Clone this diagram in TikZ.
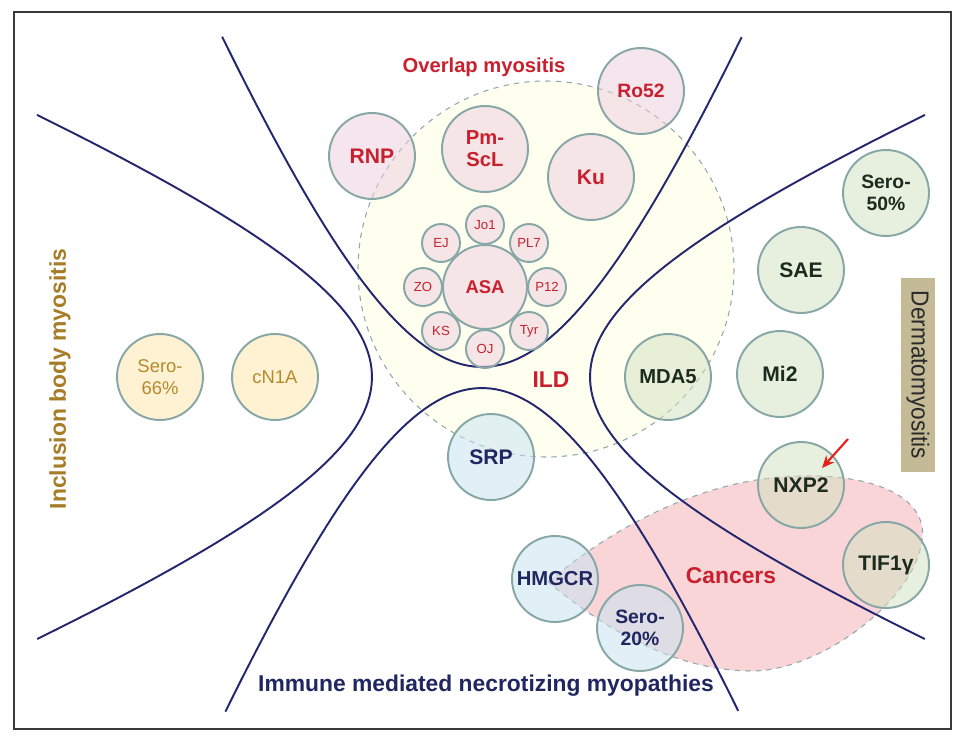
\documentclass[tikz,border=0pt]{standalone}
\usepackage{fontspec}
\usepackage{graphicx}
\setmainfont{Liberation Sans}
\usetikzlibrary{arrows.meta}
\definecolor{ringc}{HTML}{87A6A6}
\definecolor{curvec}{HTML}{24266E}
\definecolor{ildfill}{HTML}{FFFFF0}
\definecolor{ildline}{HTML}{8FA8AC}
\definecolor{pinkblob}{HTML}{F9D5D8}
\definecolor{omfill}{HTML}{EDCDDD}
\definecolor{dmfill}{HTML}{D1E1BF}
\definecolor{imfill}{HTML}{C5E3F1}
\definecolor{ibfill}{HTML}{FFE7A9}
\definecolor{redtxt}{HTML}{C8202E}
\definecolor{navytxt}{HTML}{1F2660}
\definecolor{dmtxt}{HTML}{1B2B1E}
\definecolor{ibtxt}{HTML}{B48A2C}
\definecolor{ibtitle}{HTML}{A67C26}
\definecolor{dmbox}{HTML}{C4BB96}
\definecolor{framec}{HTML}{3A3A3A}
\definecolor{dmtext}{HTML}{2A2A2A}
\definecolor{arrowred}{HTML}{E8201C}
\begin{document}
\begin{tikzpicture}[x=0.02cm,y=-0.02cm,
  ab/.style={circle, draw=ringc, line width=1.1pt, minimum size=1.72cm, inner sep=0pt, align=center, fill opacity=0.5, text opacity=1},
  om/.style={ab, fill=omfill, text=redtxt, font=\bfseries\fontsize{12}{13.5}\selectfont},
  sat/.style={circle, draw=ringc, line width=1.1pt, minimum size=0.76cm, inner sep=0pt, fill=omfill, fill opacity=0.5, text opacity=1, text=redtxt, font=\fontsize{7.5}{8}\selectfont},
  dm/.style={ab, fill=dmfill, text=dmtxt, font=\bfseries\fontsize{12}{13.5}\selectfont},
  im/.style={ab, fill=imfill, text=navytxt, font=\bfseries\fontsize{12}{13.5}\selectfont},
  ib/.style={ab, fill=ibfill, text=ibtxt, font=\fontsize{10.5}{12.5}\selectfont},
  curve/.style={draw=curvec, line width=1.1pt},
  title/.style={font=\bfseries\fontsize{13}{14}\selectfont, inner sep=0pt}
]
\useasboundingbox (0,0) rectangle (964,740);
\fill[white] (0,0) rectangle (964,740);
\draw[framec, line width=1.2pt] (14,12) rectangle (951,729);

% ILD region
\fill[ildfill] (546,269) circle[radius=188];
\draw[ildline, dashed, line width=0.6pt] (546,269) circle[radius=188];

% Cancers region
\path[fill=pinkblob] (548,582) .. controls (610,530) and (700,478) .. (800,476)
  .. controls (880,474) and (928,500) .. (922,540)
  .. controls (915,600) and (820,672) .. (750,671)
  .. controls (670,670) and (600,625) .. (548,582) -- cycle;
\draw[ildline, dashed, line width=0.6pt] (548,582) .. controls (610,530) and (700,478) .. (800,476)
  .. controls (880,474) and (928,500) .. (922,540)
  .. controls (915,600) and (820,672) .. (750,671)
  .. controls (670,670) and (600,625) .. (548,582) -- cycle;

% hyperbola boundaries
\draw[curve] plot[domain=-1.09:1.09, samples=80, variable=\t] ({482+197*sinh(\t)}, {367-504*(cosh(\t)-1)});
\draw[curve] plot[domain=-1.08:1.08, samples=80, variable=\t] ({482+197*sinh(\t)}, {388+504*(cosh(\t)-1)});
\draw[curve] plot[domain=-1.126:1.126, samples=80, variable=\t] ({372-476*(cosh(\t)-1)}, {377+190*sinh(\t)});
\draw[curve] plot[domain=-1.126:1.126, samples=80, variable=\t] ({590+476*(cosh(\t)-1)}, {377+190*sinh(\t)});

% Overlap myositis
\node[om, font=\bfseries\fontsize{11}{12}\selectfont] (ro52) at (641,91) {Ro52};
\node[om] (rnp) at (372,156) {RNP};
\node[om, font=\bfseries\fontsize{11.5}{12.5}\selectfont] (pmscl) at (485,149) {Pm-\\ScL};
\node[om] (ku) at (591,177) {Ku};
\node[om, minimum size=1.68cm, font=\bfseries\fontsize{10.5}{12}\selectfont] (asa) at (485,287) {ASA};
\node[sat] (jo1) at (485,225) {Jo1};
\node[sat] (pl7) at (529,243) {PL7};
\node[sat] (p12) at (547,287) {P12};
\node[sat] (tyr) at (529,331) {Tyr};
\node[sat] (oj) at (485,349) {OJ};
\node[sat] (ks) at (441,331) {KS};
\node[sat] (zo) at (423,287) {ZO};
\node[sat] (ej) at (441,243) {EJ};

% Dermatomyositis
\node[dm, font=\bfseries\fontsize{11}{12.5}\selectfont] (sero50) at (886,193) {Sero-\\50\%};
\node[dm] (sae) at (801,270) {SAE};
\node[dm] (mi2) at (780,374) {Mi2};
\node[dm, font=\bfseries\fontsize{11.5}{12.5}\selectfont] (mda5) at (668,377) {MDA5};
\node[dm] (nxp2) at (801,485) {NXP2};
\node[dm] (tif) at (886,565) {TIF1γ};

% IMNM
\node[im] (srp) at (491,457) {SRP};
\node[im, font=\bfseries\fontsize{11.5}{12.5}\selectfont] (hmgcr) at (555,579) {HMGCR};
\node[im, font=\bfseries\fontsize{11}{12.5}\selectfont] (sero20) at (640,628) {Sero-\\20\%};

% IBM
\node[ib] (sero66) at (160,377) {Sero-\\66\%};
\node[ib] (cn1a) at (275,377) {cN1A};

% titles
\node[title, text=redtxt, font=\bfseries\fontsize{11.5}{12}\selectfont] (overlap) at (484,67) {Overlap myositis};
\node[title, text=redtxt] (ild) at (551,380) {ILD};
\node[title, text=redtxt] (cancers) at (731,576) {Cancers};
\node[title, text=navytxt] (imnm) at (486,686) {Immune mediated necrotizing myopathies};
\node[title, text=ibtitle, rotate=90] (ibm) at (60,379) {Inclusion body myositis};
\node[rotate=-90, fill=dmbox, minimum width=3.88cm, minimum height=0.68cm, inner sep=0pt, text=dmtext, font=\fontsize{14}{15}\selectfont] (dmlab) at (918,375) {\scalebox{0.92}[1]{Dermatomyositis}};

% arrow
\coordinate (arrS) at (848,439);
\coordinate (arrE) at (822,468);
\draw[arrowred, line width=1.2pt, -{Stealth[length=7pt,width=6pt]}] (arrS) -- (arrE);
\end{tikzpicture}
\end{document}
